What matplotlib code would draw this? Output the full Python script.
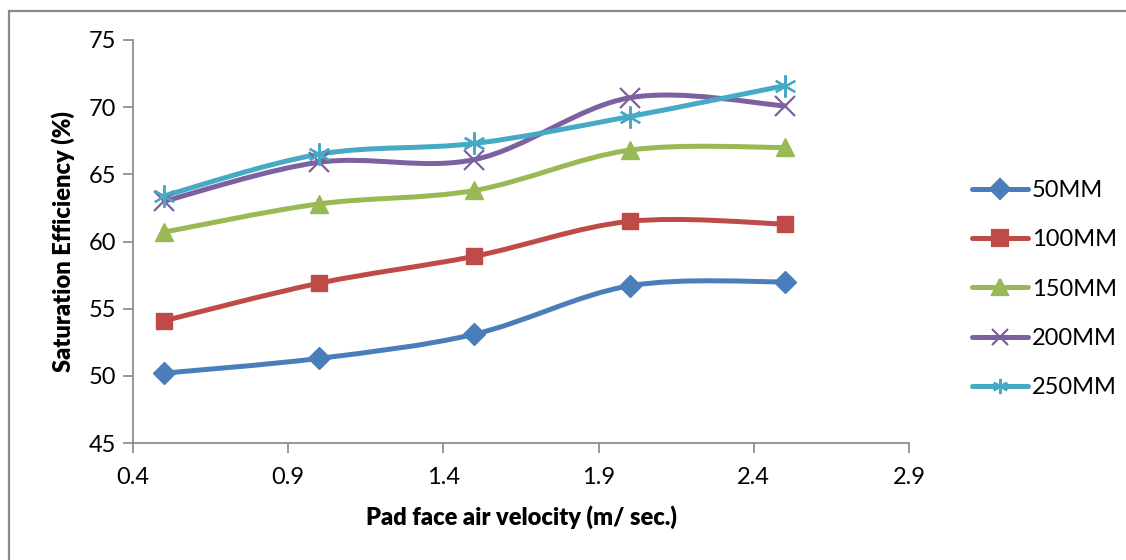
import matplotlib
matplotlib.use('Agg')
import matplotlib.pyplot as plt
import numpy as np
from matplotlib.path import Path
from matplotlib.patches import PathPatch, Rectangle
from matplotlib.lines import Line2D

# data
velocity = [0.5, 1.0, 1.5, 2.0, 2.5]
eff_50 = [50.2, 51.3, 53.1, 56.7, 57.0]
eff_100 = [54.1, 56.9, 58.9, 61.5, 61.3]
eff_150 = [60.7, 62.8, 63.8, 66.8, 67.0]
eff_200 = [63.0, 65.9, 66.1, 70.7, 70.1]
eff_250 = [63.4, 66.5, 67.3, 69.3, 71.6]
labels = ['50MM', '100MM', '150MM', '200MM', '250MM']
x_ticks = [0.4, 0.9, 1.4, 1.9, 2.4, 2.9]
y_ticks = [45, 50, 55, 60, 65, 70, 75]

series = [eff_50, eff_100, eff_150, eff_200, eff_250]
colors = ['#4a7ebb', '#be4b48', '#98b954', '#7d60a0', '#46aac5']
markers = ['D', 's', '^', 'x', '*']

plt.rcParams['font.family'] = ['Lato', 'DejaVu Sans']


def smooth_path(xs, ys):
    # excel-style smoothed line: cubic bezier with catmull-rom control points
    pts = np.column_stack([xs, ys]).astype(float)
    verts = [pts[0]]
    codes = [Path.MOVETO]
    n = len(pts)
    for i in range(n - 1):
        p0 = pts[max(i - 1, 0)]
        p1 = pts[i]
        p2 = pts[i + 1]
        p3 = pts[min(i + 2, n - 1)]
        c1 = p1 + (p2 - p0) / 6.0
        c2 = p2 - (p3 - p1) / 6.0
        verts += [c1, c2, p2]
        codes += [Path.CURVE4] * 3
    return Path(verts, codes)


fig = plt.figure(figsize=(11.26, 5.6), dpi=100)
ax = fig.add_axes([133 / 1126, 1 - 443 / 560, (909 - 133) / 1126, (443 - 40) / 560])

handles = []
for ys, c, m, lab in zip(series, colors, markers, labels):
    ax.add_patch(PathPatch(smooth_path(velocity, ys), fill=False, edgecolor=c,
                           lw=3.6, capstyle='round', zorder=3))
    if m == 'x':
        ax.plot(velocity, ys, ls='none', marker='x', ms=14, mew=1.6, color=c, zorder=4)
    elif m == '*':
        ax.plot(velocity, ys, ls='none', marker=(6, 2, 0), ms=16, mew=1.6, color=c, zorder=4)
    elif m == '^':
        ax.plot(velocity, ys, ls='none', marker='^', ms=13, color=c, zorder=4)
    elif m == 's':
        ax.plot(velocity, ys, ls='none', marker='s', ms=12, color=c, zorder=4)
    else:
        ax.plot(velocity, ys, ls='none', marker='D', ms=11, color=c, zorder=4)
    mk = (6, 2, 0) if m == '*' else m
    handles.append(Line2D([0], [0], color=c, lw=3.6, marker=mk,
                          ms=11 if m != 'D' else 10, mew=1.6,
                          solid_capstyle='round'))

ax.set_xlim(0.4, 2.9)
ax.set_ylim(45, 75)
ax.set_xticks(x_ticks)
ax.set_xticklabels([f'{v:.1f}' for v in x_ticks])
ax.set_yticks(y_ticks)

for side in ['top', 'right']:
    ax.spines[side].set_visible(False)
for side in ['left', 'bottom']:
    ax.spines[side].set_color('#868686')
    ax.spines[side].set_linewidth(1.2)
ax.tick_params(axis='both', colors='#868686', length=7, width=1.2,
               labelsize=17, labelcolor='black')
ax.tick_params(axis='x', pad=10)
ax.tick_params(axis='y', pad=5)

ax.set_xlabel('Pad face air velocity (m/ sec.)', fontsize=17, fontweight='heavy', labelpad=13)
ax.set_ylabel('Saturation Efficiency (%)', fontsize=17, fontweight='heavy', labelpad=10)

leg = fig.legend(handles=handles, labels=labels, loc='center left',
                 bbox_to_anchor=(960 / 1126, 1 - 289 / 560), frameon=False,
                 fontsize=17, handlelength=2.4, handletextpad=0.15,
                 labelspacing=1.2, borderpad=0)

# chart area border (left and top edges visible)
fig.patches.append(Rectangle((8.5 / 1126, -0.1), 1.2, 1.1 - 11 / 560,
                             transform=fig.transFigure, fill=False,
                             edgecolor='#888888', lw=1.6, clip_on=False))

fig.savefig('out.png', dpi=100)
